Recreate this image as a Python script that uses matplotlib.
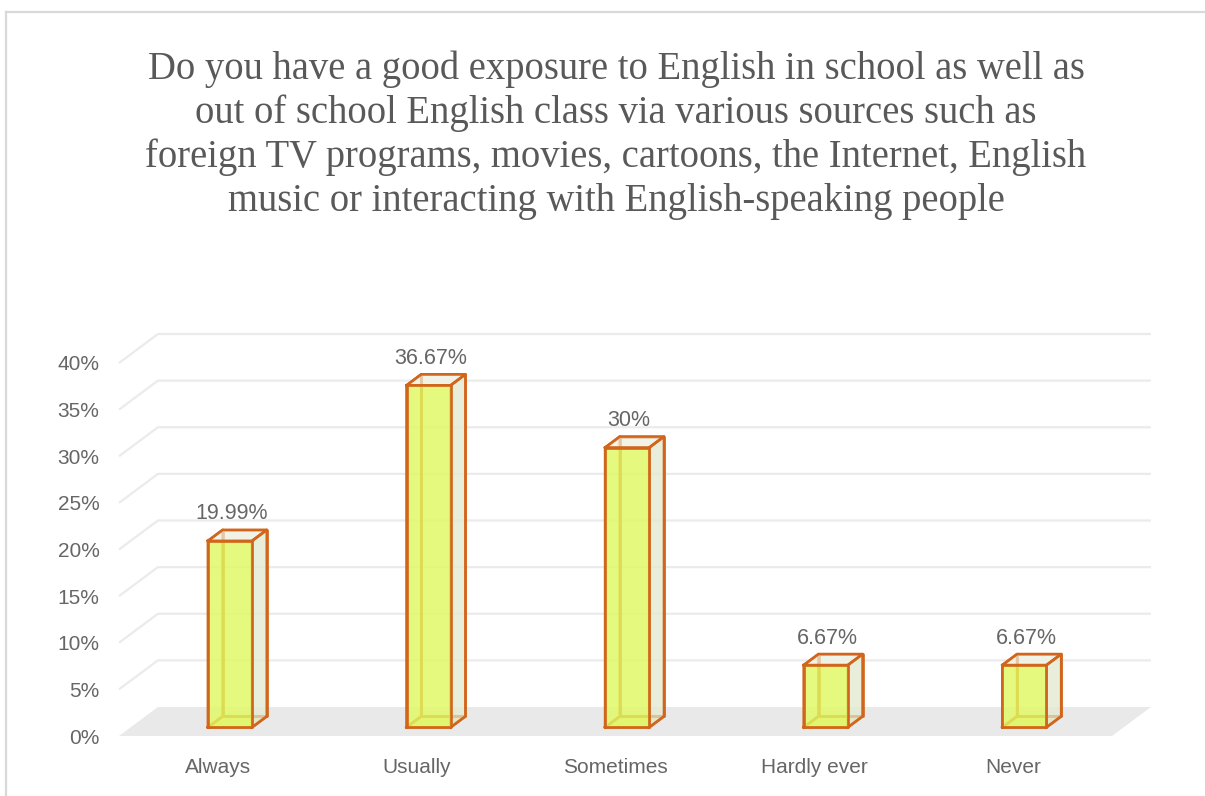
import matplotlib.pyplot as plt
from matplotlib.patches import Polygon
from matplotlib.lines import Line2D

categories = ['Always', 'Usually', 'Sometimes', 'Hardly ever', 'Never']
values = [19.99, 36.67, 30, 6.67, 6.67]
value_labels = ['19.99%', '36.67%', '30%', '6.67%', '6.67%']
yticks = [0, 5, 10, 15, 20, 25, 30, 35, 40]
ytick_labels = ['0%', '5%', '10%', '15%', '20%', '25%', '30%', '35%', '40%']
title_lines = [
    'Do you have a good exposure to English in school as well as',
    'out of school English class via various sources such as',
    'foreign TV programs, movies, cartoons, the Internet, English',
    'music or interacting with English-speaking people',
]

W, H = 1205, 796
text_col = '#595959'
label_col = '#666666'
edge_col = '#d2651c'
grid_col = '#ebebeb'

# depth of the 3d box (in data units) and where the bars sit inside it
DX, DY = 0.196, 3.11
F1, F2 = 0.30, 0.68
BW = 0.222

fig = plt.figure(figsize=(W / 100, H / 100), dpi=100)
ax = fig.add_axes([119 / W, (H - 736) / H, 993 / W, 373 / H])
ax.set_xlim(-0.5, len(categories) - 0.5)
ax.set_ylim(0, 40)
for s in ax.spines.values():
    s.set_visible(False)

x0, x1 = -0.5, len(categories) - 0.5

# floor
ax.add_patch(Polygon([(x0, 0), (x1, 0), (x1 + DX, DY), (x0 + DX, DY)],
                     closed=True, fc='#e9e9e9', ec='none', clip_on=False, zorder=1))

# gridlines: side wall diagonal + back wall
for t in yticks[1:]:
    ax.plot([x0, x0 + DX, x1 + DX], [t, t + DY, t + DY], color=grid_col,
            lw=1.6, clip_on=False, zorder=0.5, solid_capstyle='butt')


def face(pts, fc, alpha, z):
    ax.add_patch(Polygon(pts, closed=True, fc=fc, alpha=alpha, ec='none',
                         clip_on=False, zorder=z))
    xs = [p[0] for p in pts] + [pts[0][0]]
    ys = [p[1] for p in pts] + [pts[0][1]]
    ax.plot(xs, ys, color=edge_col, lw=1.9, clip_on=False, zorder=z + 0.1,
            solid_joinstyle='round')


for i, v in enumerate(values):
    l, r = i - BW / 2, i + BW / 2
    fx, fy = F1 * DX, F1 * DY
    bx, by = F2 * DX, F2 * DY
    # front and back corners
    fl0, fr0, fr1, fl1 = (l + fx, fy), (r + fx, fy), (r + fx, v + fy), (l + fx, v + fy)
    bl0, br0, br1, bl1 = (l + bx, by), (r + bx, by), (r + bx, v + by), (l + bx, v + by)
    # hidden faces first
    face([bl0, br0, br1, bl1], '#f4f6ea', 0.4, 2)
    face([fl0, bl0, bl1, fl1], '#f4f6ea', 0.3, 2)
    face([fl0, fr0, br0, bl0], '#e6f07a', 0.5, 2)
    # visible faces
    face([fr0, br0, br1, fr1], '#e2e9cf', 0.7, 3)
    face([fl1, fr1, br1, bl1], '#edf1df', 0.7, 3)
    face([fl0, fr0, fr1, fl1], '#e0f960', 0.8, 4)
    ax.annotate(value_labels[i], (i + fx + 0.01, v + by), xytext=(0, 4),
                textcoords='offset points', ha='center', va='bottom',
                fontsize=15.5, color=label_col, family='Liberation Sans', zorder=6,
                annotation_clip=False)

ax.set_xticks(range(len(categories)))
ax.set_xticklabels(categories, fontsize=15, color=label_col, family='Liberation Sans')
ax.set_yticks(yticks)
ax.set_yticklabels(ytick_labels, fontsize=15, color=label_col, family='Liberation Sans')
ax.tick_params(axis='x', length=0, pad=16)
ax.tick_params(axis='y', length=0, pad=14)

# title
for k, line in enumerate(title_lines):
    fig.text(616 / W, 1 - (79 + 44 * k) / H, line, ha='center', va='baseline',
             fontsize=27.8, color=text_col, family='Liberation Serif')

# chart area border
fig.add_artist(Line2D([6 / W, 6 / W], [0, 1 - 12 / H], color='#d9d9d9', lw=1.6))
fig.add_artist(Line2D([6 / W, 1], [1 - 12 / H, 1 - 12 / H], color='#d9d9d9', lw=1.6))

fig.savefig('out.png', dpi=100, facecolor='white')
